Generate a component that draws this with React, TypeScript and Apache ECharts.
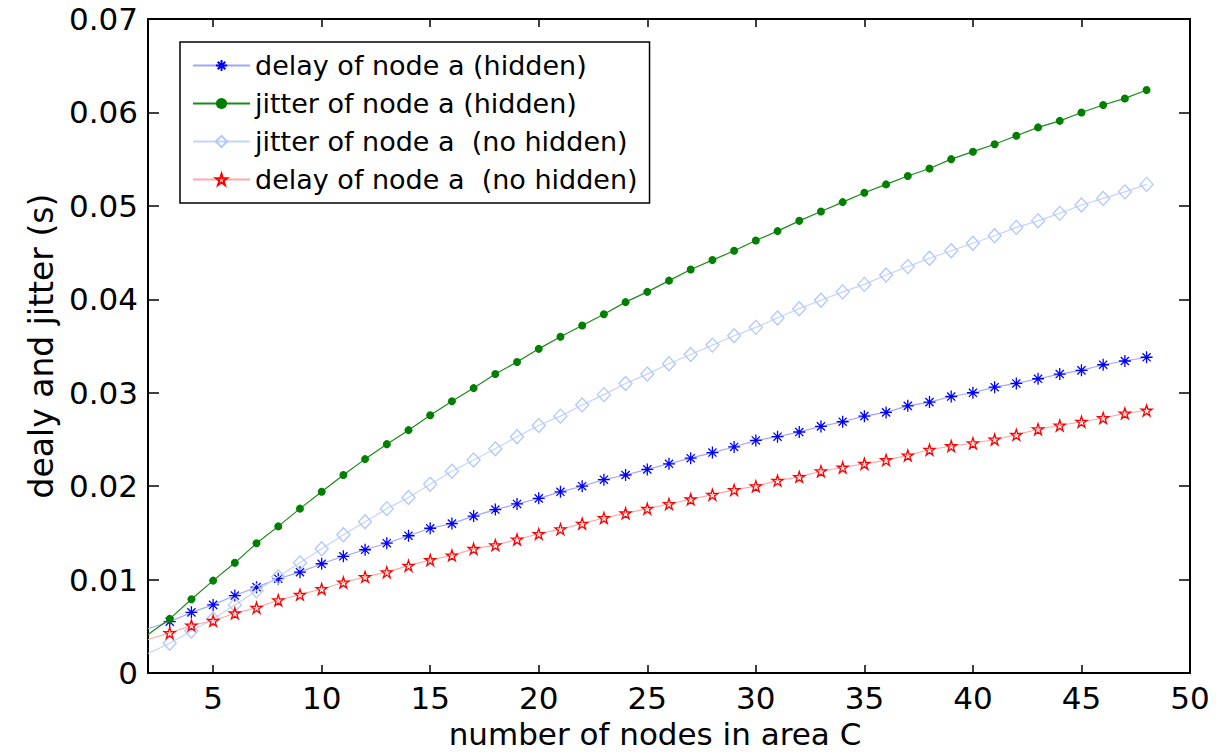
import React, { useEffect, useRef } from "react";
import * as echarts from "echarts";

// x values (first point = line start at the left border, drawn without marker)
const X_NODES = [
  2, 3, 4, 5, 6, 7, 8, 9, 10, 11, 12, 13, 14, 15, 16, 17, 18, 19, 20, 21, 22, 23, 24, 25,
  26, 27, 28, 29, 30, 31, 32, 33, 34, 35, 36, 37, 38, 39, 40, 41, 42, 43, 44, 45, 46, 47, 48,
];

const DELAY_HIDDEN = [
  0.00475, 0.0055, 0.0065, 0.0073, 0.0083, 0.0092, 0.0101, 0.0108, 0.0117, 0.0125, 0.0132,
  0.0139, 0.0147, 0.0155, 0.016, 0.0168, 0.0175, 0.0181, 0.0187, 0.0194, 0.02, 0.0207, 0.0212,
  0.0218, 0.0224, 0.023, 0.0236, 0.0242, 0.0249, 0.0253, 0.0258, 0.0264, 0.0269, 0.0275, 0.0279,
  0.0286, 0.029, 0.0296, 0.03, 0.0306, 0.031, 0.0315, 0.032, 0.0324, 0.033, 0.0334, 0.0338,
];

const JITTER_HIDDEN = [
  0.00414, 0.0058, 0.0079, 0.0099, 0.0118, 0.0139, 0.0157, 0.0176, 0.0194, 0.0212, 0.0229,
  0.0245, 0.026, 0.0276, 0.0291, 0.0305, 0.032, 0.0333, 0.0347, 0.036, 0.0372, 0.0384, 0.0397,
  0.0408, 0.042, 0.0432, 0.0442, 0.0452, 0.0463, 0.0473, 0.0484, 0.0494, 0.0504, 0.0514, 0.0523,
  0.0532, 0.054, 0.055, 0.0558, 0.0566, 0.0575, 0.0584, 0.0591, 0.06, 0.0608, 0.0615, 0.0624,
];

const JITTER_NO_HIDDEN = [
  0.0021, 0.0032, 0.0045, 0.0058, 0.0073, 0.0088, 0.0103, 0.0118, 0.0133, 0.0148, 0.0162,
  0.0176, 0.0188, 0.0202, 0.0216, 0.0228, 0.024, 0.0253, 0.0265, 0.0275, 0.0287, 0.0298, 0.031,
  0.032, 0.0331, 0.0341, 0.0351, 0.0361, 0.037, 0.038, 0.039, 0.0399, 0.0408, 0.0416, 0.0426,
  0.0435, 0.0444, 0.0452, 0.046, 0.0468, 0.0477, 0.0484, 0.0492, 0.0501, 0.0508, 0.0515, 0.0523,
];

const DELAY_NO_HIDDEN = [
  0.0036, 0.0043, 0.0051, 0.0056, 0.0064, 0.007, 0.0078, 0.0084, 0.009, 0.0097, 0.0103,
  0.0108, 0.0115, 0.0121, 0.0126, 0.0133, 0.0137, 0.0143, 0.0149, 0.0154, 0.016, 0.0166, 0.0171,
  0.0176, 0.0181, 0.0186, 0.0191, 0.0196, 0.02, 0.0206, 0.021, 0.0216, 0.022, 0.0224, 0.0228,
  0.0233, 0.0239, 0.0243, 0.0246, 0.025, 0.0255, 0.0261, 0.0265, 0.0269, 0.0273, 0.0278, 0.0281,
];

const X_TICKS = [5, 10, 15, 20, 25, 30, 35, 40, 45, 50];
const Y_TICKS = [0, 0.01, 0.02, 0.03, 0.04, 0.05, 0.06, 0.07];

const SERIES_NAMES = [
  "delay of node a (hidden)",
  "jitter of node a (hidden)",
  "jitter of node a  (no hidden)",
  "delay of node a  (no hidden)",
];

const X_LABEL = "number of nodes in area C";
const Y_LABEL = "dealy and jitter (s)";

const FONT = "'DejaVu Sans', 'Liberation Sans', sans-serif";

const ASTERISK = "path://M5,0L5,10M0,5L10,5M1.6,1.6L8.4,8.4M1.6,8.4L8.4,1.6";
const PENTAGRAM =
  "path://M50,0L61.23,34.55L97.55,34.55L68.16,55.9L79.39,90.45L50,69.1L20.61,90.45L31.84,55.9L2.45,34.55L38.77,34.55Z";

function toData(ys: number[]) {
  return X_NODES.map((x, i) =>
    i === 0 ? { value: [x, ys[i]], symbol: "none" } : [x, ys[i]]
  );
}

export default function App() {
  const ref = useRef<HTMLDivElement>(null);

  useEffect(() => {
    if (!ref.current) return;
    const chart = echarts.init(ref.current, undefined, { renderer: "svg" });

    const axisLine = { show: true, onZero: false, lineStyle: { color: "#000", width: 2 } };
    const yFmt = (v: number) => (Math.abs(v) < 1e-9 ? "0" : v.toFixed(2));

    const option: any = {
      animation: false,
      backgroundColor: "#fff",
      grid: { left: 148, right: 29, top: 19, bottom: 76 },
      legend: {
        show: true,
        orient: "vertical",
        left: 180,
        top: 42,
        itemWidth: 57,
        itemHeight: 14,
        itemGap: 11,
        padding: [10, 12, 10, 12],
        backgroundColor: "#fff",
        borderColor: "#000",
        borderWidth: 1.5,
        selectedMode: false,
        textStyle: { fontSize: 27, fontFamily: FONT, color: "#000" },
        data: SERIES_NAMES,
      },
      xAxis: [
        {
          type: "value",
          min: 2,
          max: 50,
          position: "bottom",
          axisLine,
          axisTick: {
            show: true,
            inside: true,
            length: 8,
            customValues: X_TICKS,
            lineStyle: { color: "#000", width: 1.5 },
          },
          axisLabel: {
            customValues: X_TICKS,
            margin: 9,
            fontSize: 31,
            fontFamily: FONT,
            color: "#000",
          },
          splitLine: { show: false },
          name: X_LABEL,
          nameLocation: "middle",
          nameGap: 27,
          nameTextStyle: {
            fontSize: 31,
            fontFamily: FONT,
            color: "#000",
            padding: [0, 28, 0, 0],
          },
        },
        {
          type: "value",
          min: 2,
          max: 50,
          position: "top",
          axisLine,
          axisTick: {
            show: true,
            inside: true,
            length: 8,
            customValues: X_TICKS,
            lineStyle: { color: "#000", width: 1.5 },
          },
          axisLabel: { show: false },
          splitLine: { show: false },
        },
      ],
      yAxis: [
        {
          type: "value",
          min: 0,
          max: 0.07,
          position: "left",
          axisLine,
          axisTick: {
            show: true,
            inside: true,
            length: 11,
            customValues: Y_TICKS,
            lineStyle: { color: "#000", width: 1.5 },
          },
          axisLabel: {
            customValues: Y_TICKS,
            margin: 10,
            fontSize: 31,
            fontFamily: FONT,
            color: "#000",
            formatter: yFmt,
          },
          splitLine: { show: false },
          name: Y_LABEL,
          nameLocation: "middle",
          nameGap: 88,
          nameTextStyle: { fontSize: 33, fontFamily: FONT, color: "#000" },
        },
        {
          type: "value",
          min: 0,
          max: 0.07,
          position: "right",
          axisLine,
          axisTick: {
            show: true,
            inside: true,
            length: 11,
            customValues: Y_TICKS,
            lineStyle: { color: "#000", width: 1.5 },
          },
          axisLabel: { show: false },
          splitLine: { show: false },
        },
      ],
      series: [
        {
          name: SERIES_NAMES[0],
          type: "line",
          data: toData(DELAY_HIDDEN),
          symbol: ASTERISK,
          symbolSize: [12, 12],
          lineStyle: { color: "#9ea6ff", width: 1.2 },
          itemStyle: { color: "#0000ff", borderColor: "#0000ff", borderWidth: 1.3 },
          emphasis: { disabled: true },
          z: 3,
        },
        {
          name: SERIES_NAMES[1],
          type: "line",
          data: toData(JITTER_HIDDEN),
          symbol: "circle",
          symbolSize: 8,
          lineStyle: { color: "#1a8a1a", width: 1.2 },
          itemStyle: { color: "#007f00", borderWidth: 0 },
          emphasis: { disabled: true },
          z: 4,
        },
        {
          name: SERIES_NAMES[2],
          type: "line",
          data: toData(JITTER_NO_HIDDEN),
          symbol: "diamond",
          symbolSize: [13, 14],
          lineStyle: { color: "#c4d4ff", width: 1.2 },
          itemStyle: {
            color: "rgba(255,255,255,0)",
            borderColor: "#afc6ff",
            borderWidth: 1.3,
          },
          emphasis: { disabled: true },
          z: 5,
        },
        {
          name: SERIES_NAMES[3],
          type: "line",
          data: toData(DELAY_NO_HIDDEN),
          symbol: PENTAGRAM,
          symbolSize: [11, 11],
          lineStyle: { color: "#ffa8a8", width: 1.2 },
          itemStyle: {
            color: "rgba(255,255,255,0)",
            borderColor: "#ff0000",
            borderWidth: 1.3,
          },
          emphasis: { disabled: true },
          z: 6,
        },
      ],
    };

    chart.setOption(option);
    return () => {
      chart.dispose();
    };
  }, []);

  return (
    <div
      ref={ref}
      style={{ position: "absolute", left: 0, top: 0, width: 1219, height: 754, background: "#fff" }}
    />
  );
}
